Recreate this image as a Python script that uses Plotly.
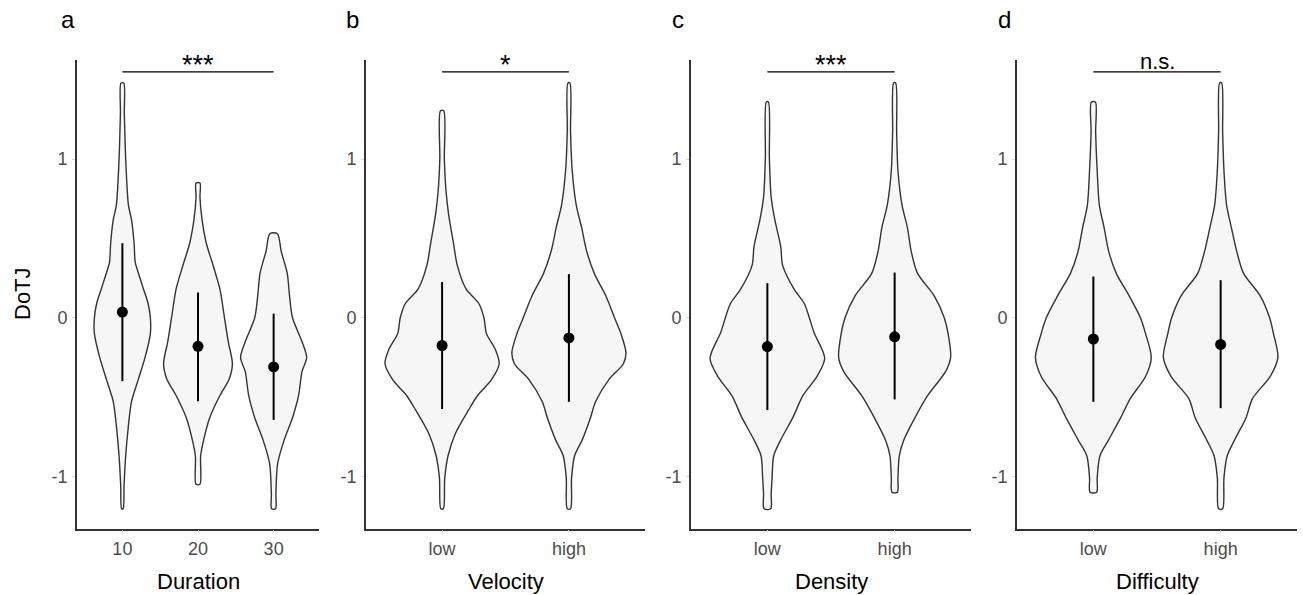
import plotly.graph_objects as go

# ---------------- data ----------------
PANEL_LETTERS = ["a", "b", "c", "d"]
X_TITLES = ["Duration", "Velocity", "Density", "Difficulty"]
CATS_A = ["10", "20", "30"]
CATS_BCD = ["low", "high"]
SIG_LABELS = ["***", "*", "***", "n.s."]
Y_TICKS = [-1, 0, 1]
Y_TICK_TEXT = ["-1", "0", "1"]

# mean and error bar (low, high) per group
MEANS_A = [0.036, -0.18, -0.31]
LOW_A = [-0.40, -0.527, -0.644]
HIGH_A = [0.47, 0.16, 0.026]
MEANS_B = [-0.175, -0.127]
LOW_B = [-0.575, -0.53]
HIGH_B = [0.225, 0.275]
MEANS_C = [-0.182, -0.12]
LOW_C = [-0.582, -0.515]
HIGH_C = [0.218, 0.285]
MEANS_D = [-0.134, -0.168]
LOW_D = [-0.53, -0.57]
HIGH_D = [0.26, 0.237]

# violin outlines: y levels (DoTJ) and half widths (category units)
A10_Y = [-1.205, -1.06, -0.87, -0.68, -0.53, -0.39, -0.25, -0.10, 0.0, 0.09, 0.18, 0.30, 0.35, 0.47, 0.62, 0.71, 1.0, 1.29, 1.48]
A10_W = [0.01, 0.022, 0.044, 0.08, 0.12, 0.21, 0.30, 0.37, 0.37, 0.34, 0.28, 0.20, 0.17, 0.155, 0.12, 0.08, 0.044, 0.026, 0.018]
A20_Y = [-1.05, -0.87, -0.77, -0.63, -0.49, -0.39, -0.29, -0.15, 0.0, 0.18, 0.33, 0.47, 0.62, 0.76, 0.85]
A20_W = [0.026, 0.035, 0.075, 0.155, 0.29, 0.41, 0.455, 0.40, 0.35, 0.29, 0.20, 0.11, 0.053, 0.026, 0.026]
A30_Y = [-1.205, -1.11, -0.92, -0.77, -0.63, -0.49, -0.34, -0.25, -0.15, 0.0, 0.14, 0.28, 0.42, 0.53]
A30_W = [0.026, 0.03, 0.053, 0.14, 0.25, 0.33, 0.375, 0.437, 0.375, 0.25, 0.21, 0.18, 0.10, 0.05]

B1_Y = [-1.205, -1.01, -0.87, -0.73, -0.58, -0.49, -0.39, -0.29, -0.20, -0.10, 0.0, 0.09, 0.18, 0.33, 0.47, 0.66, 0.81, 1.0, 1.305]
B1_W = [0.01, 0.021, 0.047, 0.105, 0.21, 0.28, 0.39, 0.45, 0.42, 0.35, 0.33, 0.29, 0.19, 0.12, 0.09, 0.05, 0.03, 0.018, 0.013]
B2_Y = [-1.205, -1.01, -0.87, -0.77, -0.63, -0.53, -0.39, -0.29, -0.22, -0.10, 0.0, 0.14, 0.28, 0.42, 0.57, 0.71, 0.93, 1.17, 1.48]
B2_W = [0.013, 0.021, 0.045, 0.105, 0.17, 0.21, 0.315, 0.43, 0.45, 0.41, 0.36, 0.29, 0.20, 0.14, 0.10, 0.058, 0.026, 0.013, 0.008]

C1_Y = [-1.205, -1.11, -1.01, -0.87, -0.77, -0.63, -0.49, -0.37, -0.26, -0.20, -0.10, 0.0, 0.09, 0.18, 0.33, 0.45, 0.62, 0.76, 1.0, 1.36]
C1_W = [0.026, 0.03, 0.037, 0.05, 0.105, 0.20, 0.28, 0.39, 0.45, 0.43, 0.37, 0.33, 0.29, 0.21, 0.12, 0.105, 0.058, 0.03, 0.016, 0.008]
C2_Y = [-1.10, -1.01, -0.87, -0.77, -0.63, -0.49, -0.34, -0.25, -0.10, 0.0, 0.14, 0.28, 0.42, 0.57, 0.71, 0.93, 1.17, 1.48]
C2_W = [0.021, 0.026, 0.037, 0.073, 0.16, 0.26, 0.40, 0.44, 0.42, 0.39, 0.31, 0.18, 0.13, 0.10, 0.058, 0.026, 0.016, 0.008]

D1_Y = [-1.10, -1.01, -0.87, -0.77, -0.63, -0.51, -0.37, -0.25, -0.10, 0.0, 0.14, 0.28, 0.42, 0.57, 0.71, 0.93, 1.17, 1.36]
D1_W = [0.026, 0.03, 0.052, 0.12, 0.215, 0.29, 0.41, 0.455, 0.41, 0.37, 0.28, 0.18, 0.12, 0.084, 0.047, 0.03, 0.018, 0.016]
D2_Y = [-1.205, -1.01, -0.87, -0.77, -0.63, -0.51, -0.37, -0.25, -0.10, 0.0, 0.14, 0.28, 0.42, 0.57, 0.71, 0.93, 1.17, 1.48]
D2_W = [0.016, 0.026, 0.052, 0.11, 0.20, 0.25, 0.39, 0.45, 0.415, 0.385, 0.31, 0.18, 0.126, 0.084, 0.047, 0.026, 0.016, 0.008]

SIG_Y = 1.55

# ---------------- layout helpers ----------------
W, H = 1303, 595
FONT = "Liberation Sans, Arial, sans-serif"
X_DOMAINS_PX = [(77, 319), (366, 645), (691, 971), (1017, 1297)]
Y_TOP_PX, Y_BOT_PX = 59.6, 528.5
Y_RANGE = [-1.329, 1.628]
LETTER_X_PX = [68, 352, 678, 1004]


def px(x):
    return x / W


def py(y):
    return 1 - y / H


panels = [
    (CATS_A, [(A10_Y, A10_W), (A20_Y, A20_W), (A30_Y, A30_W)], MEANS_A, LOW_A, HIGH_A),
    (CATS_BCD, [(B1_Y, B1_W), (B2_Y, B2_W)], MEANS_B, LOW_B, HIGH_B),
    (CATS_BCD, [(C1_Y, C1_W), (C2_Y, C2_W)], MEANS_C, LOW_C, HIGH_C),
    (CATS_BCD, [(D1_Y, D1_W), (D2_Y, D2_W)], MEANS_D, LOW_D, HIGH_D),
]

fig = go.Figure()
annotations = []
layout_axes = {}

for i, (cats, violins, means, lows, highs) in enumerate(panels):
    n = i + 1
    xa = "x" if n == 1 else f"x{n}"
    ya = "y" if n == 1 else f"y{n}"
    xkey = "xaxis" if n == 1 else f"xaxis{n}"
    ykey = "yaxis" if n == 1 else f"yaxis{n}"
    positions = list(range(1, len(cats) + 1))

    for pos, (vy, vw) in zip(positions, violins):
        xs = [pos - w for w in vw] + [pos + w for w in reversed(vw)] + [pos - vw[0]]
        ys = list(vy) + list(reversed(vy)) + [vy[0]]
        fig.add_trace(go.Scatter(
            x=xs, y=ys, xaxis=xa, yaxis=ya, mode="lines",
            line=dict(color="#333333", width=1.4, shape="spline", smoothing=0.8),
            fill="toself", fillcolor="#f6f6f6", hoverinfo="skip", showlegend=False))

    for pos, m, lo, hi in zip(positions, means, lows, highs):
        fig.add_trace(go.Scatter(
            x=[pos, pos], y=[lo, hi], xaxis=xa, yaxis=ya, mode="lines",
            line=dict(color="black", width=2), showlegend=False, hoverinfo="skip"))
    fig.add_trace(go.Scatter(
        x=positions, y=means, xaxis=xa, yaxis=ya, mode="markers",
        marker=dict(color="black", size=11), showlegend=False))

    # significance bracket
    fig.add_trace(go.Scatter(
        x=[positions[0], positions[-1]], y=[SIG_Y, SIG_Y], xaxis=xa, yaxis=ya,
        mode="lines", line=dict(color="black", width=1.2), showlegend=False,
        hoverinfo="skip"))
    is_star = "*" in SIG_LABELS[i]
    annotations.append(dict(
        x=(positions[0] + positions[-1]) / 2, y=SIG_Y, xref=xa, yref=ya,
        text=SIG_LABELS[i], showarrow=False, xanchor="center", yanchor="bottom",
        yshift=-10 if is_star else -4,
        font=dict(family=FONT, size=27 if is_star else 22, color="black")))

    x0, x1 = X_DOMAINS_PX[i]
    layout_axes[xkey] = dict(
        domain=[px(x0), px(x1)], anchor=ya, range=[0.4, len(cats) + 0.6],
        tickmode="array", tickvals=positions, ticktext=cats,
        showline=True, linecolor="#333333", linewidth=1.8,
        ticks="outside", ticklen=3, tickcolor="#d9d9d9", tickwidth=1,
        showgrid=False, zeroline=False,
        tickfont=dict(family=FONT, size=18, color="#4d4d4d"))
    layout_axes[ykey] = dict(
        domain=[py(Y_BOT_PX), py(Y_TOP_PX)], anchor=xa, range=Y_RANGE,
        tickmode="array", tickvals=Y_TICKS, ticktext=Y_TICK_TEXT,
        showline=True, linecolor="#333333", linewidth=1.8,
        ticks="outside", ticklen=3, tickcolor="#d9d9d9", tickwidth=1,
        showgrid=False, zeroline=False, ticklabelstandoff=1,
        tickfont=dict(family=FONT, size=18, color="#4d4d4d"))

    # x title
    annotations.append(dict(
        x=px((x0 + x1) / 2), y=py(581), xref="paper", yref="paper",
        text=X_TITLES[i], showarrow=False, xanchor="center", yanchor="middle",
        font=dict(family=FONT, size=22, color="black")))
    # panel letter
    annotations.append(dict(
        x=px(LETTER_X_PX[i]), y=py(19), xref="paper", yref="paper",
        text=PANEL_LETTERS[i], showarrow=False, xanchor="center", yanchor="middle",
        font=dict(family=FONT, size=24, color="black")))

annotations.append(dict(
    x=px(22), y=py(294), xref="paper", yref="paper", text="DoTJ",
    showarrow=False, textangle=-90, xanchor="center", yanchor="middle",
    font=dict(family=FONT, size=22, color="black")))

fig.update_layout(
    width=W, height=H, margin=dict(l=0, r=0, t=0, b=0),
    plot_bgcolor="white", paper_bgcolor="white",
    showlegend=False, annotations=annotations, **layout_axes)

fig.write_html(
    "out.html",
    config={"displayModeBar": False},
    post_script="document.body.style.margin='0';document.body.style.overflow='hidden';")
